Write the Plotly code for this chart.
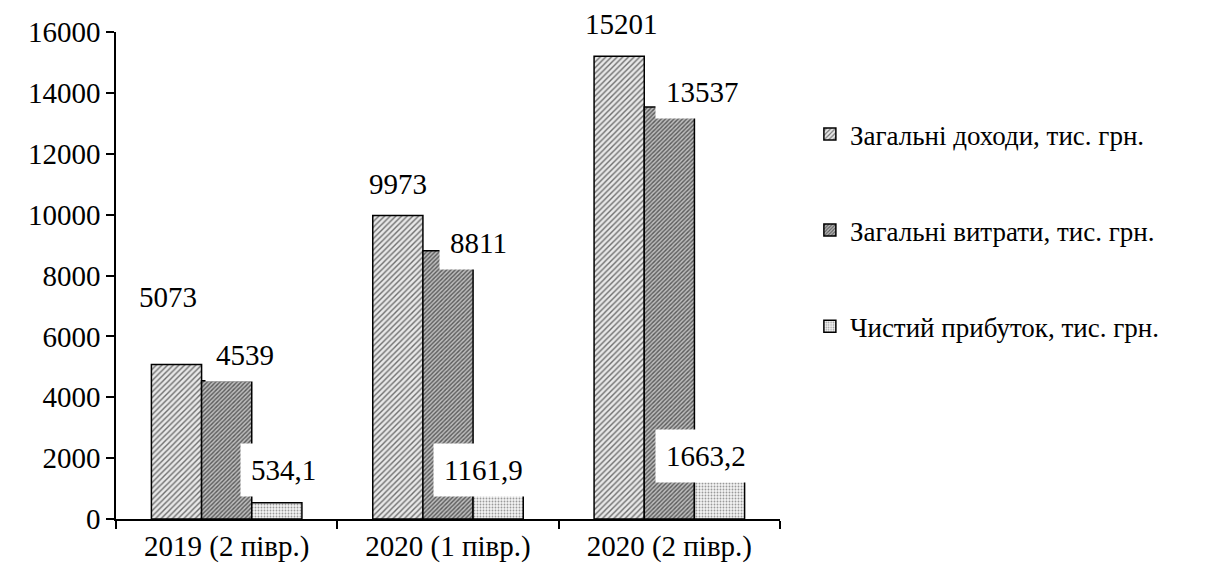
import plotly.graph_objects as go

categories = ["2019 (2 півр.)", "2020 (1 півр.)", "2020 (2 півр.)"]
series_names = ["Загальні доходи, тис. грн.", "Загальні витрати, тис. грн.", "Чистий прибуток, тис. грн."]
income = [5073, 9973, 15201]
expenses = [4539, 8811, 13537]
profit = [534.1, 1161.9, 1663.2]
income_labels = ["5073", "9973", "15201"]
expenses_labels = ["4539", "8811", "13537"]
profit_labels = ["534,1", "1161,9", "1663,2"]
y_ticks = [0, 2000, 4000, 6000, 8000, 10000, 12000, 14000, 16000]

FONT = "Liberation Serif"
FS = 29

series = [income, expenses, profit]
labels = [income_labels, expenses_labels, profit_labels]
patterns = [
    dict(shape="/", fgcolor="#6e6e6e", bgcolor="#e8e8e8", size=4, solidity=0.35),
    dict(shape="/", fgcolor="#5a5a5a", bgcolor="#bdbdbd", size=3, solidity=0.45),
    dict(shape=".", fgcolor="#9a9a9a", bgcolor="#f4f4f4", size=3, solidity=0.3),
]

fig = go.Figure()
for i in range(3):
    fig.add_trace(go.Bar(
        x=categories, y=series[i], name=series_names[i],
        legendgroup=f"g{i}",
        marker=dict(color="white", pattern=patterns[i], line=dict(color="black", width=1.5)),
    ))

bar_offsets_px = [-50, 0, 50]
label_shift = [
    [(-9, 68), (0, 31), (2, 32)],
    [(18, 26), (30, 8), (33, 15)],
    [(7, 33), (-15, 14), (-13, 12)],
]
for i in range(3):
    for j, cat in enumerate(categories):
        dx, dy = label_shift[i][j]
        fig.add_annotation(
            x=cat, y=series[i][j], xref="x", yref="y",
            text=labels[i][j], showarrow=False,
            xshift=bar_offsets_px[i] + dx, yshift=dy,
            font=dict(family=FONT, size=FS, color="black"),
            bgcolor="white", borderpad=10,
        )

fig.update_layout(
    template="none",
    width=1224, height=585,
    margin=dict(l=108, r=452, t=24, b=74, autoexpand=False),
    paper_bgcolor="white", plot_bgcolor="white",
    barmode="group", bargap=0.32, bargroupgap=0,
    font=dict(family=FONT, size=FS, color="black"),
    showlegend=True,
    legend=dict(
        x=1.045, y=0.84, xanchor="left", yanchor="top",
        traceorder="grouped", tracegroupgap=58,
        font=dict(family=FONT, size=27, color="black"),
        itemwidth=30,
    ),
    xaxis=dict(
        showline=True, linecolor="black", linewidth=1.5,
        ticks="outside", tickson="boundaries", ticklen=8, tickcolor="black", tickwidth=1.5,
        showgrid=False, zeroline=False, tickfont=dict(family=FONT, size=FS, color="black"),
    ),
    yaxis=dict(
        range=[0, 16000], tickvals=y_ticks, tickformat="d",
        showline=True, linecolor="black", linewidth=1.5,
        ticks="outside", ticklen=8, tickcolor="black", tickwidth=1.5,
        showgrid=False, zeroline=False, tickfont=dict(family=FONT, size=FS, color="black"),
    ),
)

fig.write_html("out.html")
